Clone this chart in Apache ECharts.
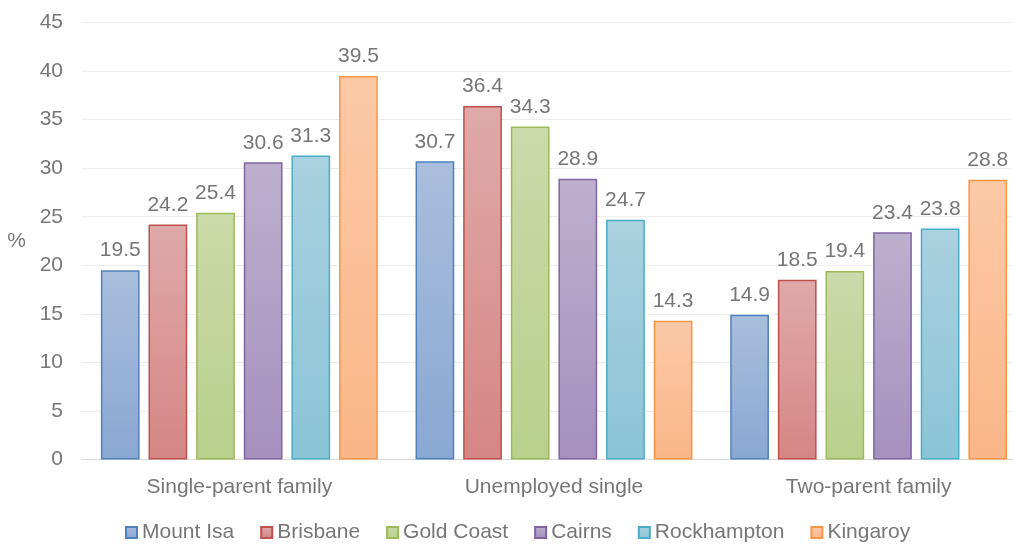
<!DOCTYPE html>
<html>
<head>
<meta charset="utf-8">
<script src="https://cdn.jsdelivr.net/npm/echarts@6/dist/echarts.min.js"></script>
<style>
  html, body { margin: 0; padding: 0; background: #fff; }
  #chart { width: 1013px; height: 544px; }
</style>
</head>
<body>
<div id="chart"></div>
<script>
// Household types (x-axis categories)
const categories = ['Single-parent family', 'Unemployed single', 'Two-parent family'];

// Share (%) for each city, in category order
const mountIsa    = [19.5, 30.7, 14.9];
const brisbane    = [24.2, 36.4, 18.5];
const goldCoast   = [25.4, 34.3, 19.4];
const cairns      = [30.6, 28.9, 23.4];
const rockhampton = [31.3, 24.7, 23.8];
const kingaroy    = [39.5, 14.3, 28.8];

const cityNames = ['Mount Isa', 'Brisbane', 'Gold Coast', 'Cairns', 'Rockhampton', 'Kingaroy'];
const cityValues = [mountIsa, brisbane, goldCoast, cairns, rockhampton, kingaroy];

// [top fill, bottom fill, border]
const palette = [
  ['#a9bedc', '#8aa7d3', '#4f81bd'],
  ['#dfaaa9', '#d58684', '#c0504d'],
  ['#cadaa9', '#b8d08c', '#9bbb59'],
  ['#bdb0ce', '#a590be', '#8064a2'],
  ['#aad1df', '#8ac4d7', '#4bacc6'],
  ['#fcc9a7', '#f9b688', '#f79646']
];

const textColor = '#767676';
const font = "'Liberation Sans', Arial, sans-serif";
const fontSize = 21;

const series = cityNames.map((name, i) => ({
  name: name,
  type: 'bar',
  data: cityValues[i],
  barGap: '23%',
  barCategoryGap: '12%',
  itemStyle: {
    color: {
      type: 'linear', x: 0, y: 0, x2: 0, y2: 1,
      colorStops: [
        { offset: 0, color: palette[i][0] },
        { offset: 1, color: palette[i][1] }
      ]
    },
    borderColor: palette[i][2],
    borderWidth: 1.5
  },
  label: {
    show: true,
    position: 'top',
    distance: 9,
    color: textColor,
    fontSize: fontSize,
    fontFamily: font,
    formatter: p => p.value.toFixed(1)
  }
}));

const chart = echarts.init(document.getElementById('chart'));
chart.setOption({
  animation: false,
  backgroundColor: '#ffffff',
  grid: {
    left: 82, right: -13, top: 22.5, bottom: 84.5,
    containLabel: false,
    outerBoundsMode: 'none'
  },
  legend: {
    data: cityNames,
    bottom: -4,
    left: 120,
    itemWidth: 11,
    itemHeight: 11,
    itemGap: 26,
    icon: 'rect',
    textStyle: { color: textColor, fontSize: fontSize, fontFamily: font }
  },
  xAxis: {
    type: 'category',
    data: categories,
    axisLine: { lineStyle: { color: '#d9d9d9', width: 1 } },
    axisTick: { show: false },
    axisLabel: { color: textColor, fontSize: fontSize, fontFamily: font, margin: 17 }
  },
  yAxis: {
    type: 'value',
    min: 0,
    max: 45,
    interval: 5,
    name: '%',
    nameLocation: 'middle',
    nameRotate: 0,
    nameGap: 56,
    nameTextStyle: { color: textColor, fontSize: fontSize, fontFamily: font },
    axisLine: { show: false },
    axisTick: { show: false },
    axisLabel: { color: textColor, fontSize: fontSize, fontFamily: font, margin: 19 },
    splitLine: { lineStyle: { color: '#ececec', width: 1 } }
  },
  series: series
});
</script>
</body>
</html>
